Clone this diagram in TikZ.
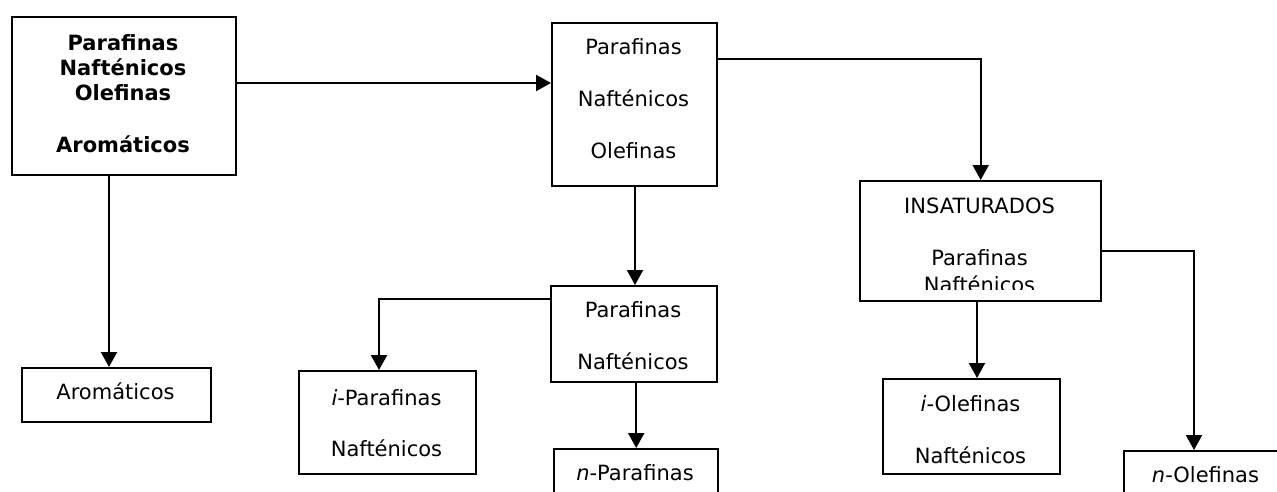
\documentclass[tikz,border=0pt]{standalone}
\usepackage{fontspec}
\setmainfont{DejaVu Sans}
\usetikzlibrary{arrows.meta}
\begin{document}
\begin{tikzpicture}[x=1pt,y=-1pt,
  box/.style={draw, line width=2.4pt, inner sep=0pt, anchor=north west},
  txt/.style={anchor=base, inner sep=0pt, font=\fontsize{21}{24}\selectfont},
  btxt/.style={txt, font=\fontsize{21}{24}\selectfont\bfseries},
  arr/.style={line width=2.1pt, -{Triangle[length=15pt,width=16pt]}}]
\useasboundingbox (0,0) rectangle (1277,491);
% boxes
\node[box, minimum width=224pt, minimum height=158pt] (A) at (11,16) {};
\node[box, minimum width=165pt, minimum height=163pt] (B) at (551,22) {};
\node[box, minimum width=241pt, minimum height=120pt] (C) at (859,180) {};
\node[box, minimum width=166pt, minimum height=96pt] (D) at (550,285) {};
\node[box, minimum width=177pt, minimum height=103pt] (iP) at (298,370) {};
\node[box, minimum width=164pt, minimum height=52pt] (nP) at (553,448) {};
\node[box, minimum width=177pt, minimum height=95pt] (iO) at (882,378) {};
\node[box, minimum width=167pt, minimum height=50pt] (nO) at (1123,450) {};
\node[box, minimum width=189pt, minimum height=54pt] (Arom) at (21,367) {};
% texts
\node[btxt] (A1) at (123,50) {Parafinas};
\node[btxt] (A2) at (123,75) {Nafténicos};
\node[btxt] (A3) at (123,100) {Olefinas};
\node[btxt] (A4) at (123,152) {Aromáticos};
\node[txt] (B1) at (633.5,54) {Parafinas};
\node[txt] (B2) at (633.5,106) {Nafténicos};
\node[txt] (B3) at (633.5,158) {Olefinas};
\node[txt] (C1) at (979.5,213) {INSATURADOS};
\node[txt] (C2) at (979.5,265) {Parafinas};
\begin{scope}
\clip (859,180) rectangle (1100,289);
\node[txt] (C3) at (979.5,292) {Nafténicos};
\end{scope}
\node[txt] (D1) at (633,317) {Parafinas};
\node[txt] (D2) at (633,369) {Nafténicos};
\node[txt] (iP1) at (386.5,405) {\textit{i}-Parafinas};
\node[txt] (iP2) at (386.5,456) {Nafténicos};
\node[txt] (nP1) at (635,480) {\textit{n}-Parafinas};
\node[txt] (iO1) at (970.5,411) {\textit{i}-Olefinas};
\node[txt] (iO2) at (970.5,463) {Nafténicos};
\node[txt] (nO1) at (1205.5,482) {\textit{n}-Olefinas};
\node[txt] (Ar1) at (115.5,399) {Aromáticos};
% connectors
\coordinate (p1) at (0,83);
\draw[arr] (A.east |- p1) -- (B.west |- p1);
\coordinate (p2) at (0,59);
\draw[arr] (B.east |- p2) -| (C.north);
\coordinate (p3) at (109,0);
\draw[arr] (A.south -| p3) -- (Arom.north -| p3);
\coordinate (p4) at (635,0);
\draw[arr] (B.south -| p4) -- (D.north -| p4);
\coordinate (p5) at (379,299);
\draw[arr] (D.west |- p5) -| (iP.north -| p5);
\draw[arr] (D.south -| nP.north) -- (nP.north);
\coordinate (p7) at (977,0);
\draw[arr] (C.south -| p7) -- (iO.north -| p7);
\coordinate (p8) at (1194,251);
\draw[arr] (C.east |- p8) -| (nO.north -| p8);
\end{tikzpicture}
\end{document}
